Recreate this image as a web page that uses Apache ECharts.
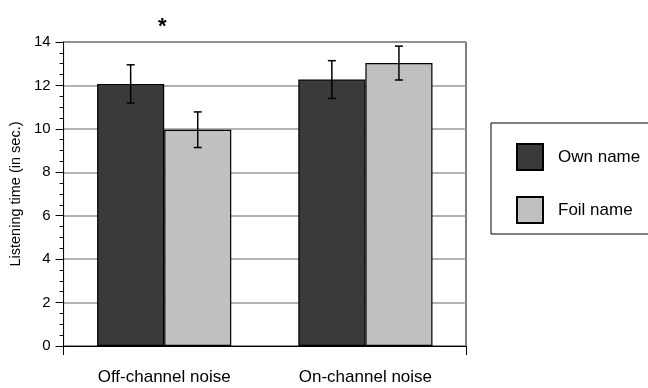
<!DOCTYPE html>
<html><head><meta charset="utf-8">
<script src="https://cdn.jsdelivr.net/npm/echarts@6/dist/echarts.min.js"></script>
<style>html,body{margin:0;padding:0;background:#fff}#c{width:648px;height:388px}</style>
</head><body><div id="c"></div>
<script>
const categories = ['Off-channel noise', 'On-channel noise'];
const seriesNames = ['Own name', 'Foil name'];
const ownName = [12.07, 12.27];
const foilName = [9.96, 13.03];
const ownErr = [0.88, 0.87];
const foilErr = [0.82, 0.78];
const yTicks = [0, 14, 2];
const annotation = '*';

const FONT = '"Liberation Sans", Arial, Helvetica, sans-serif';
const BAR_GAP_RATIO = 1/3;

function errSeries(vals, errs, side) {
  return {
    type: 'custom',
    xAxisIndex: 0, yAxisIndex: 0,
    z: 5,
    data: vals.map((v, i) => [i, v, errs[i]]),
    renderItem: function (params, api) {
      const ci = api.value(0), v = api.value(1), e = api.value(2);
      const band = api.size([1, 0])[0];
      const bw = band * (1 - BAR_GAP_RATIO) / 2;
      const c = api.coord([ci, v]);
      const x = c[0] + side * bw / 2;
      const top = api.coord([ci, v + e])[1];
      const bot = api.coord([ci, v - e])[1];
      const hw = 4;
      const st = { stroke: '#000', lineWidth: 1.5 };
      return { type: 'group', children: [
        { type: 'line', shape: { x1: x, y1: top, x2: x, y2: bot }, style: st },
        { type: 'line', shape: { x1: x - hw, y1: top, x2: x + hw, y2: top }, style: st },
        { type: 'line', shape: { x1: x - hw, y1: bot, x2: x + hw, y2: bot }, style: st }
      ]};
    }
  };
}

const chart = echarts.init(document.getElementById('c'));
chart.setOption({
  animation: false,
  backgroundColor: '#fff',
  textStyle: { fontFamily: FONT },
  title: { text: annotation, left: 153, top: 11, textStyle: { fontSize: 22, fontWeight: 'bold', color: '#000', fontFamily: FONT } },
  grid: { left: 61, right: 182, top: 42, bottom: 42, show: true, borderColor: '#000', borderWidth: 1, backgroundColor: 'transparent' },
  legend: {
    orient: 'vertical', left: 491, top: 123,
    data: seriesNames,
    icon: 'rect',
    itemWidth: 26, itemHeight: 26, itemGap: 25,
    padding: [20, 120, 10, 25],
    borderColor: '#000', borderWidth: 1,
    textStyle: { fontSize: 17, color: '#000', fontFamily: FONT, padding: [0, 0, 0, 10] }
  },
  xAxis: [
    { type: 'category', data: categories, position: 'bottom',
      axisLine: { show: false }, axisTick: { show: false },
      axisLabel: { fontSize: 17, color: '#000', margin: 23, fontFamily: FONT },
      splitLine: { show: false } },
    { type: 'value', min: 0, max: 1, interval: 1, position: 'bottom',
      axisLine: { show: true, lineStyle: { color: '#000', width: 1 } },
      axisTick: { show: true, length: 9, lineStyle: { color: '#000' } },
      axisLabel: { show: false }, splitLine: { show: false } }
  ],
  yAxis: {
    type: 'value', min: yTicks[0], max: yTicks[1], interval: yTicks[2],
    name: 'Listening time (in sec.)', nameLocation: 'middle', nameGap: 34, nameRotate: 90,
    nameTextStyle: { fontSize: 14.5, color: '#000', fontFamily: FONT },
    axisLine: { show: true, lineStyle: { color: '#000', width: 1 } },
    axisTick: { show: true, length: 8, lineStyle: { color: '#000' } },
    minorTick: { show: true, splitNumber: 4, length: 4, lineStyle: { color: '#000' } },
    axisLabel: { fontSize: 15, color: '#000', margin: 13, fontFamily: FONT },
    splitLine: { show: true, lineStyle: { color: '#999', width: 1.5 } }
  },
  series: [
    { name: seriesNames[0], type: 'bar', data: ownName, barGap: '0%', barCategoryGap: '33.33%',
      itemStyle: { color: '#3a3a3a', borderColor: '#000', borderWidth: 1.2 } },
    { name: seriesNames[1], type: 'bar', data: foilName, barGap: '0%', barCategoryGap: '33.33%',
      itemStyle: { color: '#c0c0c0', borderColor: '#000', borderWidth: 1.2 } },
    errSeries(ownName, ownErr, -1),
    errSeries(foilName, foilErr, 1)
  ]
});
</script></body></html>
